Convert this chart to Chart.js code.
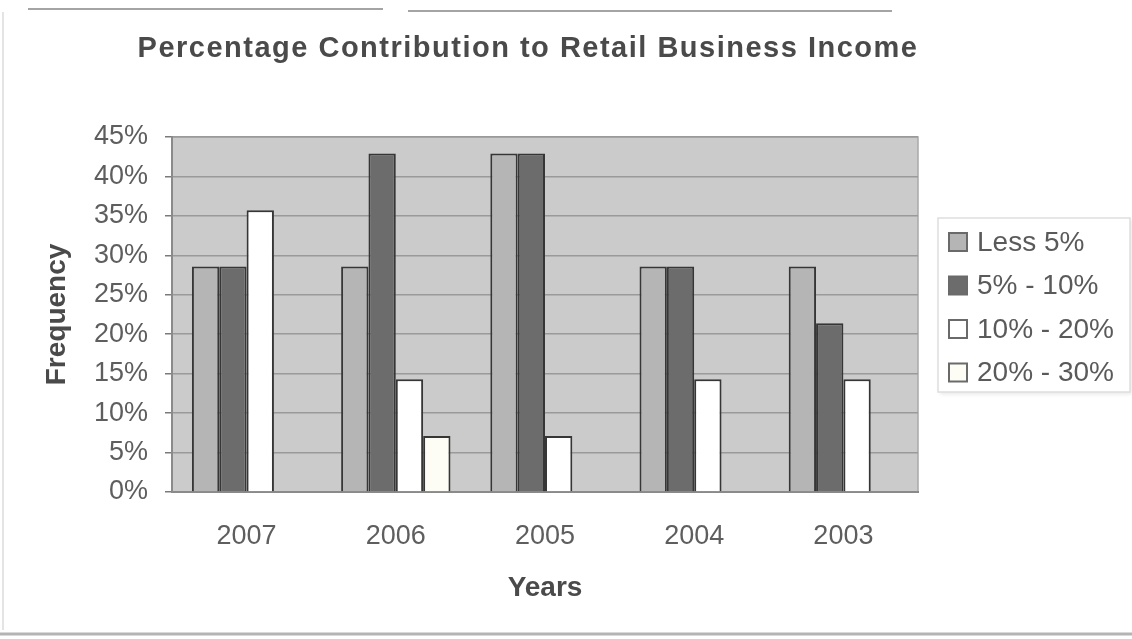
<!DOCTYPE html>
<html lang="en">
  <head>
    <meta charset="UTF-8" />
    <meta name="viewport" content="width=device-width, initial-scale=1.0" />
    <title>Percentage Contribution to Retail Business Income</title>
    <style>
      body {
        margin: 0;
        background: #fff;
      }
      canvas {
        display: block;
      }
    </style>
    <script src="https://cdn.jsdelivr.net/npm/chart.js"></script>
  </head>
  <body>
    <canvas id="myChart" width="1132" height="639"></canvas>

    <script>
      // share of respondents (%) per income-contribution band, by year
      const years = ['2007', '2006', '2005', '2004', '2003'];
      const less5 = [28.6, 28.6, 42.9, 28.6, 28.6];
      const from5to10 = [28.6, 42.9, 42.9, 28.6, 21.4];
      const from10to20 = [35.7, 14.3, 7.1, 14.3, 14.3];
      const from20to30 = [0, 7.1, 0, 0, 0];
      const bandNames = ['Less 5%', '5% - 10%', '10% - 20%', '20% - 30%'];
      const yTickValues = [0, 5, 10, 15, 20, 25, 30, 35, 40, 45];

      const titleText = 'Percentage Contribution to Retail Business Income';
      const fontFamily = '"Liberation Sans", Arial, sans-serif';

      // page frame + grey plot background, drawn under the grid
      const frame = {
        id: 'frame',
        beforeDraw(chart) {
          const ctx = chart.ctx;
          const a = chart.chartArea;
          ctx.save();
          ctx.fillStyle = '#fff';
          ctx.fillRect(0, 0, chart.width, chart.height);

          ctx.strokeStyle = '#a4a4a4';
          ctx.lineWidth = 2;
          ctx.beginPath();
          ctx.moveTo(28, 9); ctx.lineTo(383, 9);
          ctx.moveTo(408, 11); ctx.lineTo(892, 11);
          ctx.stroke();

          ctx.strokeStyle = '#b4b4b4';
          ctx.lineWidth = 3;
          ctx.beginPath();
          ctx.moveTo(0, 634); ctx.lineTo(chart.width, 634);
          ctx.stroke();

          ctx.strokeStyle = '#e4e4e4';
          ctx.lineWidth = 2;
          ctx.beginPath();
          ctx.moveTo(3, 12); ctx.lineTo(3, 630);
          ctx.stroke();

          ctx.fillStyle = '#cbcbcb';
          ctx.fillRect(a.left, a.top, a.right - a.left, a.bottom - a.top);
          ctx.strokeStyle = '#a9a9a9';
          ctx.lineWidth = 1.5;
          ctx.strokeRect(a.left, a.top, a.right - a.left, a.bottom - a.top);
          ctx.restore();
        }
      };

      // chart heading, set a little left of the plot centre
      const heading = {
        id: 'heading',
        afterDraw(chart) {
          const ctx = chart.ctx;
          ctx.save();
          ctx.font = 'bold 29px ' + fontFamily;
          ctx.letterSpacing = '1.5px';
          ctx.fillStyle = '#4a4a4a';
          ctx.textAlign = 'center';
          ctx.textBaseline = 'middle';
          ctx.fillText(titleText, 528, 49);
          ctx.restore();
        }
      };

      // boxed legend to the right of the plot
      const sideLegend = {
        id: 'sideLegend',
        afterDraw(chart) {
          const ctx = chart.ctx;
          const a = chart.chartArea;
          const left = a.right + 20;
          const top = 218;
          const rowGap = 43.5;
          ctx.save();
          ctx.shadowColor = 'rgba(0,0,0,0.10)';
          ctx.shadowBlur = 4;
          ctx.shadowOffsetX = 2;
          ctx.shadowOffsetY = 2;
          ctx.fillStyle = '#fff';
          ctx.fillRect(left, top, 192, 174);
          ctx.shadowColor = 'transparent';
          ctx.strokeStyle = '#dedede';
          ctx.lineWidth = 1.5;
          ctx.strokeRect(left, top, 192, 174);

          ctx.font = '28px ' + fontFamily;
          ctx.textBaseline = 'middle';
          chart.data.datasets.forEach((ds, i) => {
            const cy = top + 24 + i * rowGap;
            ctx.fillStyle = ds.backgroundColor;
            ctx.fillRect(left + 11, cy - 9, 18, 18);
            ctx.strokeStyle = '#6a6a6a';
            ctx.lineWidth = 2;
            ctx.strokeRect(left + 11, cy - 9, 18, 18);
            ctx.fillStyle = '#5a5a5a';
            ctx.fillText(ds.label, left + 39, cy + 1);
          });
          ctx.restore();
        }
      };

      const fills = ['#b5b5b5', '#6c6c6c', '#ffffff', '#fdfdf6'];
      const series = [less5, from5to10, from10to20, from20to30];

      const datasets = series.map((values, i) => ({
        label: bandNames[i],
        data: values,
        backgroundColor: fills[i],
        borderColor: '#363636',
        borderWidth: 2,
        borderSkipped: 'bottom',
        categoryPercentage: 0.733,
        barPercentage: 1.0
      }));

      const ctx = document.getElementById('myChart').getContext('2d');
      const myChart = new Chart(ctx, {
        type: 'bar',
        data: {
          labels: years,
          datasets: datasets
        },
        options: {
          responsive: false,
          animation: false,
          layout: {
            padding: { left: 0, top: 137, right: 214, bottom: 0 }
          },
          plugins: {
            legend: { display: false },
            title: { display: false },
            tooltip: { enabled: false }
          },
          scales: {
            x: {
              afterFit(scale) { scale.height = 147; },
              grid: { display: false, drawTicks: false },
              border: { color: '#8a8a8a', width: 2 },
              ticks: {
                padding: 28,
                color: '#5e5e5e',
                font: { family: fontFamily, size: 27 }
              },
              title: {
                display: true,
                text: 'Years',
                color: '#4a4a4a',
                padding: { top: 34, bottom: 34 },
                font: { family: fontFamily, size: 28, weight: 'bold' }
              }
            },
            y: {
              min: 0,
              max: 45,
              afterFit(scale) { scale.width = 172; },
              afterBuildTicks(scale) {
                scale.ticks = yTickValues.map(v => ({ value: v }));
              },
              grid: {
                color: '#9a9a9a',
                lineWidth: 1.5,
                tickLength: 7,
                tickColor: '#7a7a7a'
              },
              border: { color: '#8a8a8a', width: 2 },
              ticks: {
                padding: 17,
                color: '#5e5e5e',
                font: { family: fontFamily, size: 27 },
                callback: v => v + '%'
              },
              title: {
                display: true,
                text: 'Frequency',
                color: '#4a4a4a',
                padding: { top: 40, bottom: 40 },
                font: { family: fontFamily, size: 28, weight: 'bold' }
              }
            }
          }
        },
        plugins: [frame, heading, sideLegend]
      });
    </script>
  </body>
</html>
